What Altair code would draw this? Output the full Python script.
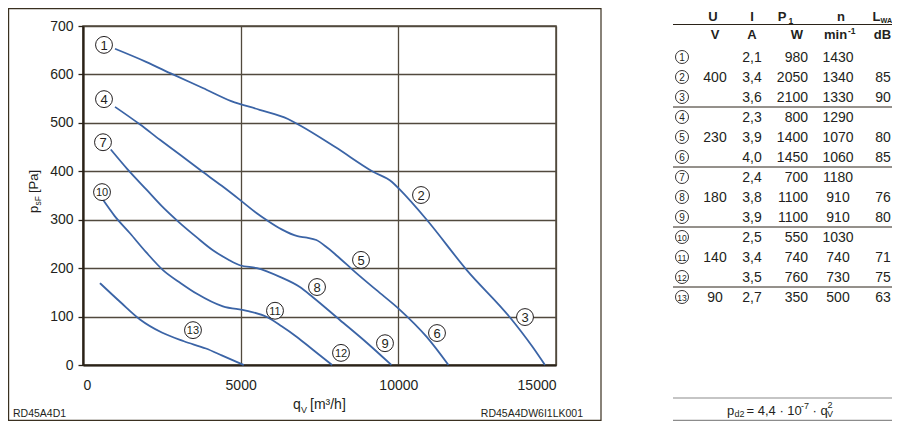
import altair as alt
import pandas as pd

FONT = "Liberation Sans"
TXT = "#231f20"
GRID = "#51493d"
AXIS = "#2a2218"
BLUE = "#3b64a6"

# ---------------- data ----------------
# characteristic curves (q_V in m3/h, p_sF in Pa)
curve_400_q = [1015, 2000, 2850, 3800, 4700, 5600, 6500, 6900, 8000, 9200, 9800, 10050, 10900, 12170, 13530, 14260, 14650]
curve_400_p = [653, 626, 600, 572, 545, 527, 508, 494, 450, 399, 378, 362, 300, 196, 99, 37, 0]

curve_230_q = [1015, 1800, 2440, 3100, 3708, 4400, 4976, 5500, 5832, 6300, 6800, 7100, 7400, 7750, 8150, 8560, 9300, 10050, 10900, 11590]
curve_230_p = [533, 497, 465, 433, 403, 370, 341, 314, 299, 280, 266, 263, 258, 242, 220, 196, 155, 114, 58, 0]

curve_180_q = [880, 1400, 2029, 2500, 3074, 3600, 4120, 4600, 4976, 5515, 6244, 6878, 7290, 8146, 9000, 9780]
curve_180_p = [445, 405, 361, 328, 293, 264, 237, 218, 206, 200, 182, 161, 140, 93, 46, 0]

curve_140_q = [634, 1000, 1490, 2000, 2536, 3100, 3613, 4437, 5198, 5832, 6300, 6783, 7300, 7900]
curve_140_p = [341, 308, 272, 233, 196, 169, 147, 121, 112, 99, 80, 58, 31, 0]

curve_90_q = [539, 1200, 1807, 2500, 3200, 3900, 4400, 5100]
curve_90_p = [169, 129, 94, 67, 49, 34, 20, 0]

# operating point labels 1..13
label_no = list(range(1, 14))
label_q = [666, 10719, 14017, 666, 8816, 11226, 634, 7421, 9577, 603, 6089, 8182, 3488]
label_p = [661, 351, 99, 549, 217, 66, 460, 161, 45, 357, 112, 25, 72]

# table
tab_U = [None, 400, None, None, 230, None, None, 180, None, None, 140, None, 90]
tab_I = [2.1, 3.4, 3.6, 2.3, 3.9, 4.0, 2.4, 3.8, 3.9, 2.5, 3.4, 3.5, 2.7]
tab_P = [980, 2050, 2100, 800, 1400, 1450, 700, 1100, 1100, 550, 740, 760, 350]
tab_n = [1430, 1340, 1330, 1290, 1070, 1060, 1180, 910, 910, 1030, 740, 730, 500]
tab_L = [None, 85, 90, None, 80, 85, None, 76, 80, None, 71, 75, 63]
group_breaks = [2.5, 5.5, 8.5, 11.5]

# ---------------- layout helpers ----------------
OX, OY = 83, 26          # page position of plot origin
W, H = 473, 339
TOTAL_W, TOTAL_H = 884, 413


def vx(px):
    return px - OX


def vy(py):
    return py - OY


ONE = alt.Data(values=[{"k": 0}])


def txt(s, px, py, size=14, bold=False, align="left", baseline="alphabetic",
        angle=0, dx=0, dy=0, color=TXT):
    kw = dict(text=s, align=align, baseline=baseline, font=FONT, fontSize=size,
              fontWeight="bold" if bold else "normal", color=color, dx=dx, dy=dy)
    if angle:
        kw["angle"] = angle
    return alt.Chart(ONE).mark_text(**kw).encode(x=alt.value(vx(px)), y=alt.value(vy(py)))


def hline(px1, px2, py, color, width=1.0):
    return alt.Chart(ONE).mark_rule(color=color, strokeWidth=width).encode(
        x=alt.value(vx(px1)), x2=alt.value(vx(px2)), y=alt.value(vy(py)))


# ---------------- plot ----------------
rows = []
for name, qs, ps in [("400", curve_400_q, curve_400_p), ("230", curve_230_q, curve_230_p),
                     ("180", curve_180_q, curve_180_p), ("140", curve_140_q, curve_140_p),
                     ("90", curve_90_q, curve_90_p)]:
    for q, p in zip(qs, ps):
        rows.append({"curve": name, "q": q, "p": p})
curves_df = pd.DataFrame(rows)
lab_df = pd.DataFrame({"n": label_no, "q": label_q, "p": label_p})

xaxis = alt.Axis(values=[0, 5000, 10000, 15000], format="d", grid=True, gridColor=GRID,
                 gridWidth=1.3, domainColor=AXIS, domainWidth=2.2, ticks=False,
                 labelFont=FONT, labelFontSize=14, labelColor=TXT, labelPadding=13, title=None)
yaxis = alt.Axis(values=list(range(0, 701, 100)), format="d", grid=True, gridColor=GRID,
                 gridWidth=1.3, domainColor=AXIS, domainWidth=2.2, tickColor=AXIS, tickSize=5,
                 tickWidth=1.3, labelFont=FONT, labelFontSize=14, labelColor=TXT,
                 labelPadding=5, title=None)
X = alt.X("q:Q", scale=alt.Scale(domain=[0, 15000], nice=False), axis=xaxis)
Y = alt.Y("p:Q", scale=alt.Scale(domain=[0, 700], nice=False), axis=yaxis)

lines = alt.Chart(curves_df).mark_line(color=BLUE, strokeWidth=1.8, interpolate="monotone").encode(
    x=X, y=Y, detail="curve:N")
circ = alt.Chart(lab_df).mark_circle(size=285, fill="white", stroke=TXT, strokeWidth=1,
                                     opacity=1).encode(x=X, y=Y)
nums = alt.Chart(lab_df).mark_text(font=FONT, color=TXT, baseline="middle", align="center",
                                   dy=1).encode(
    x=X, y=Y, text="n:N",
    size=alt.condition("datum.n >= 10", alt.value(11), alt.value(13)))
plot_group = alt.layer(lines, circ, nums)

# ---------------- table ----------------
def fmt_int(v):
    return "" if v is None else str(v)


tab_df = pd.DataFrame({
    "row": list(range(13)),
    "no": label_no,
    "U": [fmt_int(v) for v in tab_U],
    "I": [f"{v:.1f}".replace(".", ",") for v in tab_I],
    "P": [str(v) for v in tab_P],
    "n": [str(v) for v in tab_n],
    "L": [fmt_int(v) for v in tab_L],
})
sep_df = pd.DataFrame({"row": group_breaks})
RY = alt.Y("row:Q", scale=alt.Scale(domain=[0, 12], range=[vy(57), vy(297)], nice=False, zero=False),
           axis=None)


def col(field, px, align="center"):
    return alt.Chart(tab_df).mark_text(font=FONT, fontSize=14, color=TXT, align=align,
                                       baseline="middle", dy=1).encode(
        x=alt.value(vx(px)), y=RY, text=f"{field}:N")


tcirc = alt.Chart(tab_df).mark_circle(size=170, fill="white", stroke=TXT, strokeWidth=0.9,
                                      opacity=1).encode(x=alt.value(vx(682)), y=RY)
tnum = alt.Chart(tab_df).mark_text(font=FONT, color=TXT, baseline="middle", align="center",
                                   dy=0.5).encode(
    x=alt.value(vx(682)), y=RY, text="no:N",
    size=alt.condition("datum.no >= 10", alt.value(8.5), alt.value(10)))
seps = alt.Chart(sep_df).mark_rule(color=AXIS, strokeWidth=1).encode(
    x=alt.value(vx(673)), x2=alt.value(vx(896)), y=RY)

table_group = alt.layer(seps, tcirc, tnum,
                        col("U", 715), col("I", 752), col("P", 808, "right"),
                        col("n", 838), col("L", 883))

# ---------------- annotations ----------------
FB = 414.5  # formula baseline
annots = [
    # outer frame
    alt.Chart(ONE).mark_rect(fillOpacity=0, stroke="#3a3020", strokeWidth=1.2).encode(
        x=alt.value(vx(8.6)), x2=alt.value(vx(601)), y=alt.value(vy(8.6)), y2=alt.value(vy(420.4))),
    # axis titles
    txt("q", 293, 409, 14), txt("V", 301, 412.5, 9), txt("[m³/h]", 310, 409, 14),
    txt("p", 38, 213, 13, angle=270),
    txt("sF", 38, 213, 8.5, angle=270, dx=7.5, dy=3),
    txt("[Pa]", 38, 213, 13, angle=270, dx=20),
    # footers
    txt("RD45A4D1", 13, 417, 10.5),
    txt("RD45A4DW6I1LK001", 583, 417, 10.5, align="right"),
    # table header
    txt("U", 713, 16.5, 13, True, "center", "middle"),
    txt("I", 752, 16.5, 13, True, "center", "middle"),
    txt("P", 782, 16.5, 13, True, "center", "middle"),
    txt("1", 788.5, 20.5, 8.5, True, "left", "middle"),
    txt("n", 841, 16.5, 13, True, "center", "middle"),
    txt("L", 876.5, 16.5, 13, True, "center", "middle"),
    txt("WA", 880.5, 20.5, 7.2, True, "left", "middle"),
    txt("V", 715, 35, 13, True, "center", "middle"),
    txt("A", 752, 35, 13, True, "center", "middle"),
    txt("W", 797, 35, 13, True, "center", "middle"),
    txt("min", 824, 35, 13, True, "left", "middle"),
    txt("-1", 848, 31, 8.5, True, "left", "middle"),
    txt("dB", 882.5, 35, 13, True, "center", "middle"),
    hline(673, 896, 24.5, AXIS, 1),
    # formula block
    hline(673, 896, 398, "#8c8c8c", 1.2),
    hline(673, 896, 420.4, "#8c8c8c", 1.2),
    txt("p", 727, FB, 13), txt("d2", 734.5, FB + 2.5, 9),
    txt("= 4,4 · 10", 746.5, FB, 13),
    txt("-7", 801, FB - 5.5, 9),
    txt("· q", 812.5, FB, 13),
    txt("V", 827, FB + 2.5, 9), txt("2", 827.5, FB - 6.5, 9),
]

chart = alt.layer(plot_group, table_group, *annots).resolve_scale(y="independent").properties(
    width=W, height=H,
    autosize=alt.AutoSizeParams(type="none"),
    padding={"left": OX - 8, "top": OY - 8, "right": TOTAL_W - (OX - 8) - W,
             "bottom": TOTAL_H - (OY - 8) - H},
    background="white",
).configure_view(stroke=GRID, strokeWidth=1.5)

chart.save("out.html", embed_options={"renderer": "svg", "actions": False})
